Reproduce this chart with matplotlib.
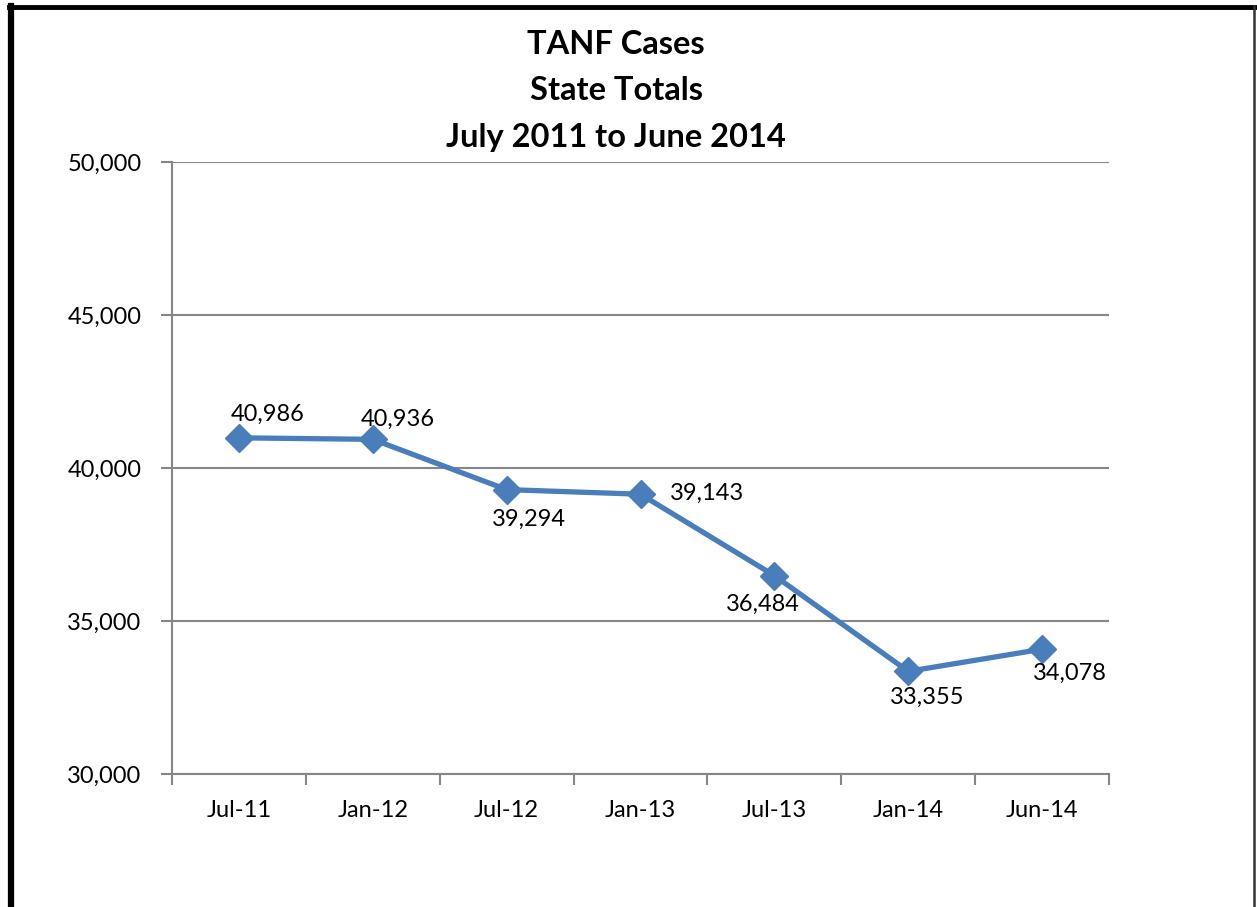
import matplotlib
matplotlib.use("Agg")
import matplotlib.pyplot as plt
from matplotlib.ticker import FuncFormatter, FixedLocator

plt.rcParams['font.family'] = ['Lato', 'DejaVu Sans']

categories = ["Jul-11", "Jan-12", "Jul-12", "Jan-13", "Jul-13", "Jan-14", "Jun-14"]
cases = [40986, 40936, 39294, 39143, 36484, 33355, 34078]
label_offsets = [(29, 23), (25, 20), (22, -30), (67, 1), (-11, -29), (19, -26), (28, -24)]
title_lines = ["TANF Cases", "State Totals", "July 2011 to June 2014"]

W, H, DPI = 1257, 907, 100
fig = plt.figure(figsize=(W / DPI, H / DPI), dpi=DPI)

def fx(px):
    return px / W

def fy(py):
    return 1 - py / H

ax = fig.add_axes([fx(172), fy(774), fx(1109) - fx(172), fy(162) - fy(774)])

x = list(range(len(categories)))
ax.plot(x, cases, color='#4A7EBB', lw=3.8, marker='D', ms=14, mec='#4A7EBB', mfc='#4A7EBB',
        solid_joinstyle='round', zorder=3, clip_on=False)
ax.set_xlim(-0.5, len(categories) - 0.5)
ax.set_ylim(30000, 50000)
ax.set_yticks([30000, 35000, 40000, 45000, 50000])
ax.yaxis.set_major_formatter(FuncFormatter(lambda v, p: f"{int(v):,}"))
ax.set_xticks(x)
ax.set_xticklabels(categories)
ax.xaxis.set_minor_locator(FixedLocator([i - 0.5 for i in range(len(categories) + 1)]))
ax.tick_params(axis='x', which='major', length=0, pad=19, labelsize=17)
ax.tick_params(axis='x', which='minor', length=8, color='#868686', width=1.5)
ax.tick_params(axis='y', length=8, color='#868686', width=1.5, labelsize=17, pad=14)
ax.grid(axis='y', color='#868686', lw=1.5)
ax.set_axisbelow(True)
for s in ['top', 'right']:
    ax.spines[s].set_visible(False)
for s in ['left', 'bottom']:
    ax.spines[s].set_color('#868686')
    ax.spines[s].set_linewidth(1.5)

for xi, v, (dx, dy) in zip(x, cases, label_offsets):
    ax.annotate(f"{v:,}", (xi, v), xytext=(dx, dy), textcoords='offset pixels',
                ha='center', va='center', fontsize=17)

for i, t in enumerate(title_lines):
    fig.text(fx(616), fy(45 + 46 * i), t, ha='center', va='center', fontsize=23.5, fontweight='bold')

# outer frame
fig.add_artist(plt.Line2D([fx(11), fx(11)], [0, fy(6)], color='black', lw=4.5, transform=fig.transFigure))
fig.add_artist(plt.Line2D([fx(9), fx(1255)], [fy(6.5), fy(6.5)], color='black', lw=3.5, transform=fig.transFigure))
fig.add_artist(plt.Line2D([fx(1254), fx(1254)], [0, fy(6)], color='#333333', lw=1.8, transform=fig.transFigure))

fig.savefig("out.png", dpi=DPI, facecolor='white')
